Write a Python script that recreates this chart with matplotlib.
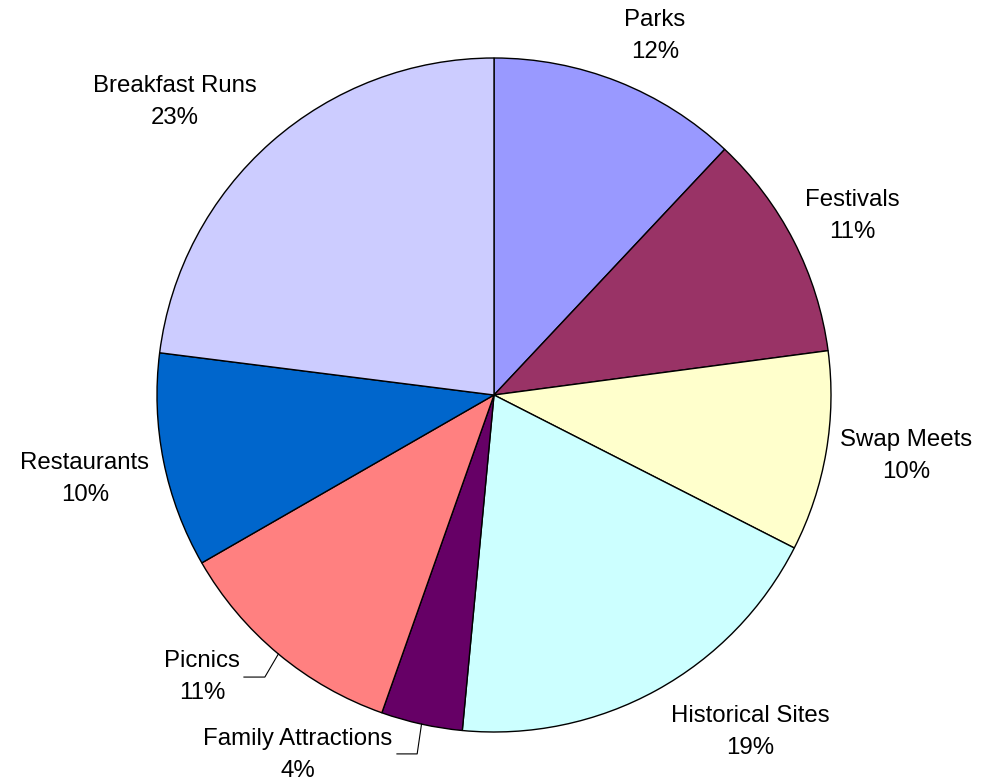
import numpy as np
import matplotlib.pyplot as plt

plt.rcParams['font.family'] = ['Liberation Sans', 'DejaVu Sans']

categories = ['Parks', 'Festivals', 'Swap Meets', 'Historical Sites',
              'Family Attractions', 'Picnics', 'Restaurants', 'Breakfast Runs']
shares = [12.0, 10.9, 9.6, 19.0, 3.9, 11.3, 10.3, 23.0]
colors = ['#9999FF', '#993366', '#FFFFCC', '#CCFFFF',
          '#660066', '#FF8080', '#0066CC', '#CCCCFF']

# label centres, in units of the pie radius
label_pos = [(0.478, 1.065), (1.062, 0.531), (1.223, -0.181), (0.760, -1.000),
             (-0.582, -1.068), (-0.866, -0.837), (-1.214, -0.249), (-0.947, 0.869)]
# leader lines (elbow, end) for the small labels
leaders = {4: [(-0.228, -1.065), (-0.288, -1.065)],
           5: [(-0.680, -0.837), (-0.742, -0.837)]}

W, H = 989, 781
cx, cy, R = 494, 395, 337

fig = plt.figure(figsize=(W / 100, H / 100), dpi=100)
ax = fig.add_axes([0, 0, 1, 1])

wedges, _ = ax.pie(shares, colors=colors, startangle=90, counterclock=False,
                   radius=1, center=(0, 0),
                   wedgeprops=dict(edgecolor='black', linewidth=1.0))
ax.set_xlim(-cx / R, (W - cx) / R)
ax.set_ylim(-(H - cy) / R, cy / R)
ax.set_aspect('equal')
ax.axis('off')

total = sum(shares)
for i, (name, val) in enumerate(zip(categories, shares)):
    x, y = label_pos[i]
    ax.text(x, y, f'{name}\n{round(val / total * 100):.0f}%', ha='center', va='center',
            fontsize=17.3, linespacing=1.62, color='black')
    if i in leaders:
        w = wedges[i]
        mid = np.deg2rad((w.theta1 + w.theta2) / 2)
        xs = [np.cos(mid)] + [p[0] for p in leaders[i]]
        ys = [np.sin(mid)] + [p[1] for p in leaders[i]]
        ax.plot(xs, ys, color='black', linewidth=0.8)

plt.savefig('out.png', dpi=100)
